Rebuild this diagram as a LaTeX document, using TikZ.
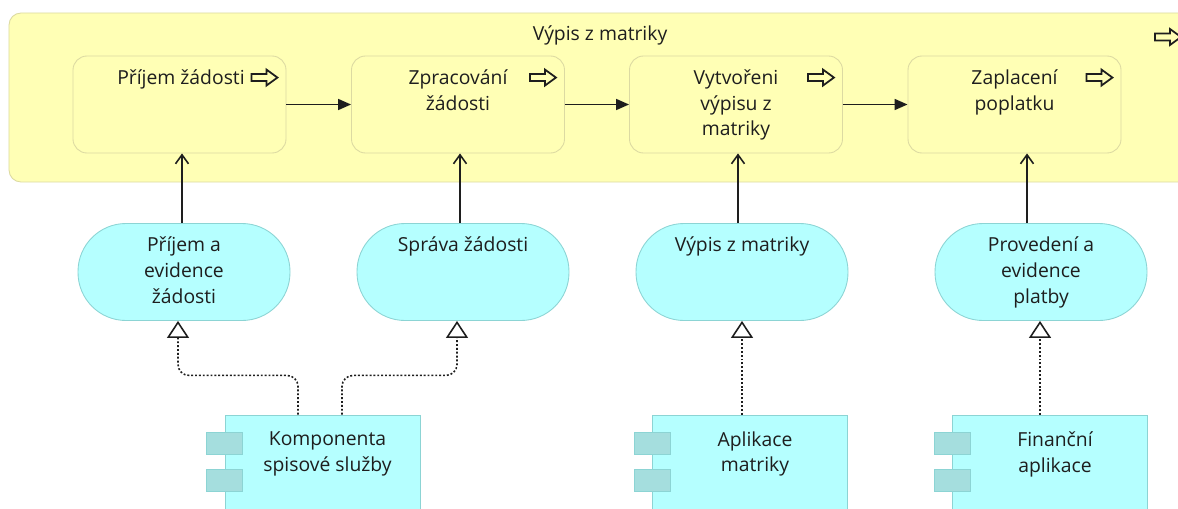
\documentclass[tikz,border=0pt]{standalone}
\usepackage{fontspec}
\setmainfont{Open Sans}
\usetikzlibrary{arrows.meta,positioning,calc}
\definecolor{bizfill}{HTML}{FFFFB5}
\definecolor{bizline}{HTML}{DCDAA2}
\definecolor{appfill}{HTML}{B5FFFF}
\definecolor{appline}{HTML}{8CD4D4}
\definecolor{tabfill}{HTML}{A5DEDE}
\definecolor{inkgray}{HTML}{1E1E1E}

\begin{document}
\begin{tikzpicture}[
  font=\fontsize{11}{14.7}\selectfont,
  proc/.style={draw=bizline,fill=bizfill,rounded corners=0.28cm,line width=0.5pt,
               minimum width=4.26cm,minimum height=1.94cm},
  svc/.style={draw=appline,fill=appfill,rounded corners=0.96cm,line width=0.5pt,
              minimum width=4.24cm,minimum height=1.94cm},
  comp/.style={draw=appline,fill=appfill,line width=0.5pt,minimum width=3.9cm,minimum height=2.4cm},
  tab/.style={draw=appline,fill=tabfill,line width=0.4pt,minimum width=0.72cm,minimum height=0.44cm,inner sep=0pt},
  txt/.style={align=center,inner sep=0pt,text=inkgray},
  trig/.style={-{Triangle[length=2.6mm,width=2.2mm]},line width=0.9pt,inkgray},
  serve/.style={-{Straight Barb[length=1.8mm,width=2.6mm]},line width=0.9pt,inkgray},
  real/.style={-{Triangle[open,length=3.4mm,width=4.4mm]},line width=0.9pt,
               dash pattern=on 1.1pt off 1.1pt,inkgray},
  procicon/.pic={\draw[line width=1pt,inkgray] (-0.26,0.07) -- (0.04,0.07) -- (0.04,0.16)
                 -- (0.26,0) -- (0.04,-0.16) -- (0.04,-0.07) -- (-0.26,-0.07) -- cycle;},
]
\useasboundingbox (0,0) rectangle (23.56,-10.16);
\clip (0,0) rectangle (23.56,-10.16);

% ---------- TOP: the business process group ----------
\node[proc,rounded corners=0.24cm,minimum width=23.82cm,minimum height=3.38cm] (grp) at (12.09,-1.95) {};
\node[txt] (grpt) at (12.0,-0.70) {Výpis z matriky};
\pic (grpi) at (23.36,-0.74) {procicon};

\node[proc] (p1) at (3.59,-2.09) {};
\node[proc] (p2) at (9.16,-2.09) {};
\node[proc] (p3) at (14.72,-2.09) {};
\node[proc] (p4) at (20.29,-2.09) {};
\node[txt,anchor=north] (p1t) at ([xshift=0.03cm,yshift=-0.27cm]p1.north) {Příjem žádosti};
\node[txt,anchor=north] (p2t) at ([yshift=-0.27cm]p2.north) {Zpracování\\žádosti};
\node[txt,anchor=north] (p3t) at ([yshift=-0.27cm]p3.north) {Vytvořeni\\výpisu z\\matriky};
\node[txt,anchor=north] (p4t) at ([yshift=-0.27cm]p4.north) {Zaplacení\\poplatku};
\foreach \p in {p1,p2,p3,p4}
  \pic (\p i) at ([xshift=-0.44cm,yshift=-0.44cm]\p.north east) {procicon};

% ---------- MIDDLE: application services ----------
\node[svc] (s1) at (3.68,-5.44) {};
\node[svc] (s2) at (9.26,-5.44) {};
\node[svc] (s3) at (14.84,-5.44) {};
\node[svc] (s4) at (20.82,-5.44) {};
\node[txt,anchor=north] (s1t) at ([yshift=-0.27cm]s1.north) {Příjem a\\evidence\\žádosti};
\node[txt,anchor=north] (s2t) at ([yshift=-0.27cm]s2.north) {Správa žádosti};
\node[txt,anchor=north] (s3t) at ([yshift=-0.27cm]s3.north) {Výpis z matriky};
\node[txt,anchor=north] (s4t) at ([yshift=-0.27cm]s4.north) {Provedení a\\evidence\\platby};

% ---------- BOTTOM: application components ----------
\node[comp] (c1) at (6.45,-9.5) {};
\node[comp] (c2) at (15.0,-9.5) {};
\node[comp] (c3) at (21.0,-9.5) {};
\foreach \c in {c1,c2,c3}{
  \node[tab] (\c a) at ([yshift=-0.58cm]\c.north west) {};
  \node[tab] (\c b) at ([yshift=-1.32cm]\c.north west) {};
}
\node[txt,anchor=north] (c1t) at ([xshift=0.1cm,yshift=-0.33cm]c1.north) {Komponenta\\spisové služby};
\node[txt,anchor=north] (c2t) at ([xshift=0.1cm,yshift=-0.33cm]c2.north) {Aplikace\\matriky};
\node[txt,anchor=north] (c3t) at ([xshift=0.1cm,yshift=-0.33cm]c3.north) {Finanční\\aplikace};

% ---------- connectors ----------
\draw[trig] (p1.east) -- (p2.west);
\draw[trig] (p2.east) -- (p3.west);
\draw[trig] (p3.east) -- (p4.west);

\draw[serve] ([xshift=-0.04cm]s1.north) -- ([xshift=-0.04cm]s1.north |- p1.south);
\draw[serve] ([xshift=-0.06cm]s2.north) -- ([xshift=-0.06cm]s2.north |- p2.south);
\draw[serve] ([xshift=-0.08cm]s3.north) -- ([xshift=-0.08cm]s3.north |- p3.south);
\draw[serve] ([xshift=-0.28cm]s4.north) -- ([xshift=-0.28cm]s4.north |- p4.south);

\draw[real,rounded corners=0.22cm] ([xshift=-0.49cm]c1.north)
  |- ([xshift=-0.12cm,yshift=-1.09cm]s1.south) -- ([xshift=-0.12cm]s1.south);
\draw[real,rounded corners=0.22cm] ([xshift=0.39cm]c1.north)
  |- ([xshift=-0.12cm,yshift=-1.09cm]s2.south) -- ([xshift=-0.12cm]s2.south);
\draw[real] (c2.north -| s3.south) -- (s3.south);
\draw[real] ([xshift=-0.02cm]c3.north -| s4.south) -- ([xshift=-0.02cm]s4.south);

\end{tikzpicture}
\end{document}
